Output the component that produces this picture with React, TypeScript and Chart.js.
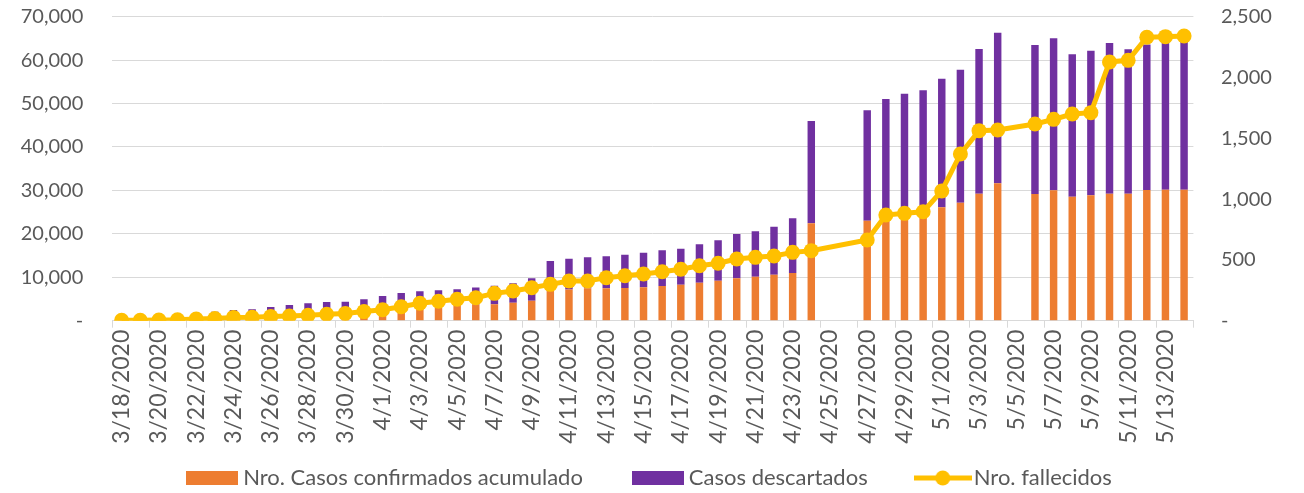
import React, { useEffect, useRef } from "react";
import { Chart, registerables } from "chart.js";

Chart.register(...registerables);

const dates = [
  "3/18/2020", "3/19/2020", "3/20/2020", "3/21/2020", "3/22/2020", "3/23/2020", "3/24/2020", "3/25/2020",
  "3/26/2020", "3/27/2020", "3/28/2020", "3/29/2020", "3/30/2020", "3/31/2020", "4/1/2020", "4/2/2020",
  "4/3/2020", "4/4/2020", "4/5/2020", "4/6/2020", "4/7/2020", "4/8/2020", "4/9/2020", "4/10/2020",
  "4/11/2020", "4/12/2020", "4/13/2020", "4/14/2020", "4/15/2020", "4/16/2020", "4/17/2020", "4/18/2020",
  "4/19/2020", "4/20/2020", "4/21/2020", "4/22/2020", "4/23/2020", "4/24/2020", "4/25/2020", "4/26/2020",
  "4/27/2020", "4/28/2020", "4/29/2020", "4/30/2020", "5/1/2020", "5/2/2020", "5/3/2020", "5/4/2020",
  "5/5/2020", "5/6/2020", "5/7/2020", "5/8/2020", "5/9/2020", "5/10/2020", "5/11/2020", "5/12/2020",
  "5/13/2020", "5/14/2020",
];

const confirmed = [
  170, 260, 430, 530, 790, 980, 1080, 1210, 1400, 1600, 1820, 1920, 1960, 2240, 2760, 3160,
  3370, 3470, 3650, 3750, 3770, 4150, 4610, 7000, 7200, 7450, 7500, 7550, 7700, 8000, 8250, 8750,
  9210, 9760, 10130, 10590, 10980, 22430, null, null, 23030, 24300, 24700, 24900, 26110, 27170, 29240, 31640,
  null, 29170, 30020, 28550, 28870, 29240, 29240, 30100, 30130, 30130,
];

const discarded = [
  530, 690, 820, 970, 1010, 1090, 1370, 1410, 1750, 2000, 2180, 2380, 2390, 2680, 2930, 3240,
  3430, 3530, 3600, 3900, 4280, 4460, 5150, 6750, 7080, 7150, 7320, 7650, 7960, 8210, 8330, 8840,
  9300, 10200, 10450, 11060, 12600, 23550, null, null, 25420, 26750, 27570, 28150, 29610, 30630, 33320, 34680,
  null, 34310, 35000, 32790, 33300, 34700, 33250, 33500, 34070, 34670,
];

const deaths = [
  3, 4, 5, 7, 14, 18, 27, 28, 34, 39, 44, 53, 60, 75, 90, 115,
  143, 160, 176, 189, 225, 244, 271, 299, 326, 326, 354, 370, 384, 403, 423, 452,
  472, 507, 521, 532, 562, 576, null, null, 664, 869, 883, 896, 1067, 1371, 1563, 1568,
  null, 1618, 1656, 1700, 1711, 2128, 2141, 2331, 2336, 2341,
];

const leftTicks = [0, 10000, 20000, 30000, 40000, 50000, 60000, 70000];
const rightTicks = [0, 500, 1000, 1500, 2000, 2500];

const ORANGE = "#ED7D31";
const PURPLE = "#7030A0";
const GOLD = "#FFC000";
const TEXT = "#595959";
const GRID = "#D9D9D9";
const FONT = "Lato";

function fmt(v: number) {
  return v === 0 ? "-" : v.toLocaleString("en-US");
}

function boxImg(color: string) {
  const c = document.createElement("canvas");
  c.width = 52;
  c.height = 14;
  const g = c.getContext("2d")!;
  g.fillStyle = color;
  g.fillRect(0, 0, 52, 14);
  return c;
}

function lineImg(color: string) {
  const c = document.createElement("canvas");
  c.width = 58;
  c.height = 16;
  const g = c.getContext("2d")!;
  g.strokeStyle = color;
  g.lineWidth = 5;
  g.beginPath();
  g.moveTo(0, 8);
  g.lineTo(58, 8);
  g.stroke();
  g.fillStyle = color;
  g.beginPath();
  g.arc(29, 8, 7.5, 0, Math.PI * 2);
  g.fill();
  return c;
}

export default function App() {
  const ref = useRef<HTMLCanvasElement | null>(null);

  useEffect(() => {
    if (!ref.current) return;
    const imgs = [boxImg(ORANGE), boxImg(PURPLE), lineImg(GOLD)];
    const chart = new Chart(ref.current, {
      type: "bar",
      data: {
        labels: dates,
        datasets: [
          {
            type: "bar",
            label: "Nro. Casos confirmados acumulado",
            data: confirmed,
            backgroundColor: ORANGE,
            yAxisID: "y",
            stack: "s",
            order: 2,
            categoryPercentage: 1,
            barPercentage: 0.4,
          },
          {
            type: "bar",
            label: "Casos descartados",
            data: discarded,
            backgroundColor: PURPLE,
            yAxisID: "y",
            stack: "s",
            order: 2,
            categoryPercentage: 1,
            barPercentage: 0.4,
          },
          {
            type: "line",
            label: "Nro. fallecidos",
            data: deaths,
            borderColor: GOLD,
            backgroundColor: GOLD,
            borderWidth: 5,
            pointRadius: 7.5,
            pointBorderWidth: 0,
            pointBackgroundColor: GOLD,
            yAxisID: "y1",
            spanGaps: true,
            tension: 0,
            order: 0,
          },
        ] as any,
      },
      options: {
        responsive: false,
        animation: false,
        layout: { padding: { top: 16.7, left: 0, right: 0, bottom: 0 } },
        plugins: {
          tooltip: { enabled: false },
          legend: {
            position: "bottom",
            labels: {
              usePointStyle: true,
              pointStyleWidth: 40,
              padding: 55,
              color: TEXT,
              font: { family: FONT, size: 22 },
              generateLabels: (ch: any) =>
                ch.data.datasets.map((ds: any, i: number) => ({
                  text: ds.label,
                  pointStyle: imgs[i],
                  fillStyle: "transparent",
                  strokeStyle: "transparent",
                  lineWidth: 0,
                  hidden: false,
                  datasetIndex: i,
                  fontColor: TEXT,
                })),
            },
          },
        },
        scales: {
          x: {
            stacked: true,
            offset: true,
            afterFit: (s: any) => {
              s.height = 91.3;
              s._computeLabelArea = () => undefined;
            },
            grid: {
              offset: true,
              drawOnChartArea: false,
              drawTicks: true,
              tickLength: 7,
              color: (ctx: any) =>
                ctx.type === "tick" ? (ctx.index % 2 === 0 ? GRID : "rgba(0,0,0,0)") : GRID,
            },
            border: { display: true, color: GRID, width: 1 },
            ticks: {
              autoSkip: false,
              minRotation: 90,
              maxRotation: 90,
              padding: 2,
              color: TEXT,
              font: { family: FONT, size: 23 },
              callback: function (this: any, _v: any, i: number) {
                return i % 2 === 0 ? dates[i] : "";
              },
            },
          },
          y: {
            position: "left",
            stacked: true,
            min: 0,
            max: 70000,
            afterFit: (s: any) => {
              s.width = 112.3;
              s.paddingTop = 0;
              s.paddingBottom = 0;
            },
            afterBuildTicks: (s: any) => {
              s.ticks = leftTicks.map((v) => ({ value: v }));
            },
            grid: { color: GRID, lineWidth: 1, drawTicks: false },
            border: { display: false },
            ticks: {
              padding: 29,
              color: TEXT,
              font: { family: FONT, size: 20 },
              callback: (v: any) => fmt(Number(v)),
            },
          },
          y1: {
            position: "right",
            min: 0,
            max: 2500,
            afterFit: (s: any) => {
              s.width = 110.6;
              s.paddingTop = 0;
              s.paddingBottom = 0;
            },
            afterBuildTicks: (s: any) => {
              s.ticks = rightTicks.map((v) => ({ value: v }));
            },
            grid: { display: false, drawOnChartArea: false, drawTicks: false },
            border: { display: false },
            ticks: {
              padding: 27.5,
              color: TEXT,
              font: { family: FONT, size: 20 },
              callback: (v: any) => fmt(Number(v)),
            },
          },
        },
      } as any,
    });
    return () => chart.destroy();
  }, []);

  return (
    <div style={{ position: "fixed", left: 0, top: 0, width: 1304, height: 499 }}>
      <canvas ref={ref} width={1304} height={499} style={{ display: "block" }} />
    </div>
  );
}
